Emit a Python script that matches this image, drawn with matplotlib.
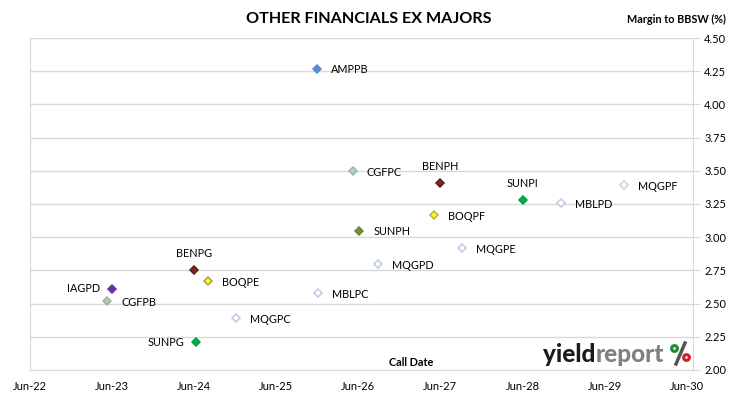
import matplotlib
matplotlib.use("Agg")
import matplotlib.pyplot as plt
import matplotlib.dates as mdates
from matplotlib.lines import Line2D
from matplotlib.patches import Circle
from datetime import date

plt.rcParams['font.family'] = ['Lato', 'DejaVu Sans']

# securities, call dates and margins (%)
codes = ['AMPPB', 'CGFPC', 'BENPH', 'SUNPI', 'MBLPD', 'MQGPF', 'BOQPF', 'SUNPH',
         'MQGPE', 'MQGPD', 'BENPG', 'BOQPE', 'IAGPD', 'CGFPB', 'MQGPC', 'SUNPG', 'MBLPC']
call_dates = ['2025-11-28', '2026-05-08', '2027-05-30', '2028-05-31', '2028-11-18',
              '2029-08-25', '2027-05-05', '2026-06-05', '2027-09-03', '2026-08-26',
              '2024-06-03', '2024-08-01', '2023-06-04', '2023-05-13', '2024-12-03',
              '2024-06-09', '2025-12-05']
margins = [4.27, 3.50, 3.41, 3.28, 3.26, 3.39, 3.17, 3.05,
           2.92, 2.80, 2.75, 2.67, 2.61, 2.52, 2.39, 2.21, 2.58]

# marker styles
face = {'AMPPB': '#558ED5', 'CGFPC': '#C3D69B', 'BENPH': '#7B2C2C', 'SUNPI': '#00B050',
        'MBLPD': 'white', 'MQGPF': 'white', 'BOQPF': '#FFFF00', 'SUNPH': '#77933C',
        'MQGPE': 'white', 'MQGPD': 'white', 'BENPG': '#7B2C2C', 'BOQPE': '#FFFF00',
        'IAGPD': '#7030A0', 'CGFPB': '#C4C98A', 'MQGPC': 'white', 'SUNPG': '#00B050',
        'MBLPC': 'white'}
edge = {'AMPPB': '#558ED5', 'CGFPC': '#8FB4C8', 'BENPH': '#5A1E1E', 'SUNPI': '#00A040',
        'MBLPD': '#B9CDE5', 'MQGPF': '#C6D5EA', 'BOQPF': '#B0B060', 'SUNPH': '#6A8A30',
        'MQGPE': '#B9CDE5', 'MQGPD': '#B9CDE5', 'BENPG': '#5A1E1E', 'BOQPE': '#A0A060',
        'IAGPD': '#7030A0', 'CGFPB': '#9BB0C8', 'MQGPC': '#B9CDE5', 'SUNPG': '#00A040',
        'MBLPC': '#B9CDE5'}
# label placement: r = right, t = top, l = left
place = {'BENPH': 't', 'SUNPI': 't', 'BENPG': 't', 'IAGPD': 'l', 'SUNPG': 'l'}

x = [mdates.date2num(date.fromisoformat(d)) for d in call_dates]

fig = plt.figure(figsize=(7.30, 3.99), dpi=100)
ax = fig.add_axes([29.5 / 730, 29 / 399, 663.5 / 730, 332 / 399])

for c, xi, yi in zip(codes, x, margins):
    ax.plot(xi, yi, marker='D', ms=4, mfc=face[c], mec=edge[c], mew=1.1, ls='none', zorder=3)
    p = place.get(c, 'r')
    if p == 'r':
        ax.annotate(c, (xi, yi), xytext=(10, -1), textcoords='offset points',
                    ha='left', va='center', fontsize=7.8)
    elif p == 'l':
        ax.annotate(c, (xi, yi), xytext=(-8.5, 0), textcoords='offset points',
                    ha='right', va='center', fontsize=7.8)
    else:
        ax.annotate(c, (xi, yi), xytext=(0, 12), textcoords='offset points',
                    ha='center', va='center', fontsize=7.8)

ax.set_xlim(mdates.date2num(date(2022, 6, 1)), mdates.date2num(date(2030, 6, 27)))
ax.set_ylim(2.0, 4.5)
ax.set_xticks([mdates.date2num(date(y, 6, 1)) for y in range(2022, 2031)])
ax.xaxis.set_major_formatter(mdates.DateFormatter('%b-%y'))
ax.set_yticks([2.0 + 0.25 * i for i in range(11)])
ax.yaxis.set_major_formatter(plt.FormatStrFormatter('%.2f'))
ax.yaxis.tick_right()
ax.tick_params(axis='y', length=5, color='#D9D9D9', labelsize=8, pad=3)
ax.tick_params(axis='x', length=0, labelsize=8, pad=8)
ax.grid(axis='y', color='#D9D9D9', lw=1)
ax.set_axisbelow(True)
for s in ['left', 'bottom', 'right']:
    ax.spines[s].set_color('#D9D9D9')
ax.spines['top'].set_visible(False)

fig.text(369 / 730, 1 - 19 / 399, 'OTHER FINANCIALS EX MAJORS', ha='center', va='center',
         fontsize=11.6, fontweight='bold')
fig.text(726 / 730, 1 - 19 / 399, 'Margin to BBSW (%)', ha='right', va='center',
         fontsize=7.8, fontweight='bold')
fig.text(411 / 730, 1 - 363 / 399, 'Call Date', ha='center', va='center',
         fontsize=7.8, fontweight='bold')

# yieldreport logo
t1 = fig.text(543 / 730, 1 - 355 / 399, 'yield', ha='left', va='center', fontsize=17.5,
              fontweight='black', color='#1a1a1a')
fig.canvas.draw()
bb = t1.get_window_extent()
fig.text(bb.x1 / 730 + 0.5 / 730, 1 - 355 / 399, 'report', ha='left', va='center', fontsize=17.5,
         fontweight='black', color='#808080')
fig.add_artist(Line2D([676 / 730, 685 / 730], [1 - 364 / 399, 1 - 343 / 399],
                      transform=fig.transFigure, color='#555555', lw=2.5))
fig.add_artist(Circle((674.5, 399 - 348.5), 2.9, transform=None, facecolor='#f4fbf4',
                      edgecolor='#1e8a3a', lw=2.2))
fig.add_artist(Circle((686.5, 399 - 357.5), 2.9, transform=None, facecolor='#fbf0f0',
                      edgecolor='#d0202a', lw=2.2))

fig.savefig('out.png', dpi=100)
